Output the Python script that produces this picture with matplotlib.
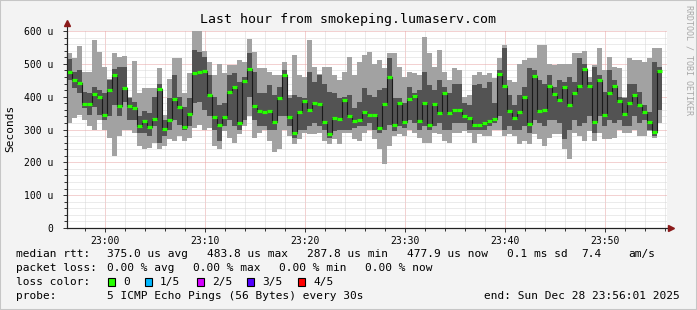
import numpy as np
import matplotlib
matplotlib.use("Agg")
import matplotlib.pyplot as plt
from matplotlib.ticker import MultipleLocator

plt.rcParams['font.family'] = ['DejaVu Sans Mono']

W, H = 697, 310

# smokeping data: 5 pings per 30 s step, values in microseconds
# sorted pings: ping_min, ping_q1 (2nd), median (3rd), ping_q3 (4th), ping_max
ping_max = [532, 517, 555, 476, 476, 572, 535, 490, 455, 534, 520, 525, 400, 508, 410, 425, 426, 426, 488, 345,
            455, 517, 517, 410, 471, 608, 608, 539, 506, 466, 498, 471, 496, 496, 511, 506, 577, 537, 486, 486,
            476, 466, 466, 506, 405, 527, 466, 461, 572, 491, 470, 491, 491, 466, 450, 476, 522, 466, 506, 527,
            537, 501, 511, 486, 532, 532, 491, 461, 476, 471, 466, 583, 532, 491, 542, 476, 450, 486, 481, 400,
            405, 466, 476, 466, 471, 456, 517, 557, 450, 445, 501, 511, 517, 517, 557, 557, 501, 496, 501, 501,
            501, 532, 532, 540, 461, 496, 547, 481, 522, 491, 486, 400, 517, 511, 511, 506, 517, 547, 547]
ping_q3 = [514, 476, 480, 415, 410, 430, 420, 410, 450, 485, 490, 490, 395, 385, 340, 355, 350, 400, 440, 330,
           395, 466, 400, 370, 395, 542, 537, 521, 466, 400, 374, 380, 466, 471, 445, 460, 532, 476, 410, 410,
           435, 405, 430, 481, 395, 405, 400, 395, 476, 445, 465, 440, 415, 410, 395, 400, 405, 364, 385, 425,
           405, 400, 420, 425, 517, 395, 395, 380, 430, 410, 420, 476, 435, 420, 450, 430, 410, 440, 440, 380,
           374, 435, 440, 425, 445, 380, 480, 547, 405, 374, 405, 430, 486, 481, 450, 440, 466, 430, 450, 445,
           461, 445, 517, 500, 445, 491, 466, 415, 481, 450, 400, 395, 440, 440, 415, 374, 354, 506, 491]
median = [474, 452, 443, 377, 377, 409, 400, 345, 419, 467, 373, 426, 372, 367, 311, 325, 309, 331, 422, 303,
          328, 394, 369, 309, 346, 471, 476, 478, 404, 339, 313, 339, 414, 429, 321, 449, 483, 371, 356, 354,
          356, 323, 397, 466, 337, 288, 354, 386, 360, 380, 377, 323, 287, 335, 331, 390, 342, 327, 328, 352,
          343, 345, 306, 378, 459, 314, 380, 323, 393, 402, 326, 380, 315, 378, 349, 410, 350, 359, 359, 342,
          336, 314, 314, 319, 325, 331, 470, 432, 357, 335, 353, 399, 317, 462, 356, 359, 433, 407, 389, 429,
          376, 411, 432, 483, 434, 322, 450, 345, 410, 431, 387, 346, 380, 404, 376, 353, 324, 293, 477]
ping_q1 = [450, 425, 410, 365, 345, 370, 345, 330, 340, 375, 340, 385, 330, 330, 290, 290, 280, 310, 260, 280,
           300, 330, 315, 300, 310, 380, 385, 360, 340, 300, 265, 310, 330, 310, 300, 330, 400, 330, 310, 310,
           300, 300, 340, 340, 310, 275, 300, 300, 310, 320, 310, 300, 275, 295, 300, 300, 300, 305, 310, 310,
           320, 300, 290, 300, 315, 295, 310, 305, 330, 320, 300, 310, 300, 310, 320, 300, 300, 320, 320, 320,
           300, 300, 300, 300, 310, 320, 340, 300, 310, 300, 300, 310, 290, 330, 320, 310, 330, 330, 320, 270,
           300, 330, 310, 320, 340, 290, 340, 310, 330, 320, 330, 310, 310, 340, 320, 330, 300, 280, 360]
ping_min = [320, 335, 345, 330, 310, 300, 330, 300, 275, 220, 280, 300, 300, 290, 250, 240, 245, 260, 240, 250,
            270, 265, 280, 265, 275, 305, 315, 300, 305, 250, 240, 295, 275, 260, 285, 310, 340, 275, 290, 300,
            265, 230, 240, 300, 280, 255, 270, 290, 285, 285, 290, 265, 255, 270, 255, 290, 290, 270, 265, 290,
            300, 270, 240, 195, 250, 280, 285, 280, 300, 290, 275, 260, 260, 290, 285, 265, 260, 290, 290, 295,
            290, 260, 285, 280, 280, 300, 300, 280, 285, 280, 255, 265, 255, 285, 270, 250, 275, 285, 285, 240,
            210, 290, 280, 265, 295, 265, 290, 270, 270, 275, 300, 290, 290, 300, 280, 280, 295, 275, 320]

start_min = 56 + 10 / 60   # 22:56:10, minutes after 22:00
step_min = 0.5
tick_labels = ["23:00", "23:10", "23:20", "23:30", "23:40", "23:50"]
tick_pos = [60, 70, 80, 90, 100, 110]
y_labels = ["0", "100 u", "200 u", "300 u", "400 u", "500 u", "600 u"]

legend_rtt = ["375.0 us avg", "483.8 us max", "287.8 us min", "477.9 us now", "0.1 ms sd", "7.4", "am/s"]
legend_loss = ["0.00 % avg", "0.00 % max", "0.00 % min", "0.00 % now"]
loss_names = ["0", "1/5", "2/5", "3/5", "4/5"]
loss_colors = ["#26ff00", "#00b8ff", "#d400ff", "#5200ff", "#ff0000"]

n = len(median)
t = start_min + step_min * np.arange(n)

fig = plt.figure(figsize=(W / 100, H / 100), dpi=100, facecolor="#f3f3f3")


def fx(x):
    return x / W


def fy(y):
    return 1 - y / H


ax = fig.add_axes([fx(67), fy(228), 600 / W, 197 / H])
ax.set_facecolor("white")
ax.set_xlim(start_min, start_min + 60)
ax.set_ylim(0, 600)

# grid (behind the smoke)
dots = (0, (1, 1))
for m in np.arange(58, start_min + 60, 2):
    major = m % 10 == 0
    ax.axvline(m, color="#e8a4a4" if major else "#d8d8d8", lw=0.72, ls=dots, zorder=1)
for v in range(20, 601, 20):
    major = v % 100 == 0
    ax.axhline(v, color="#e8a4a4" if major else "#d8d8d8", lw=0.72, ls=dots, zorder=1)

# smoke
ax.bar(t, np.array(ping_max) - np.array(ping_min), bottom=ping_min, width=step_min, align="edge",
       color="#a2a2a2", linewidth=0, zorder=2)
ax.bar(t, np.array(ping_q3) - np.array(ping_q1), bottom=ping_q1, width=step_min, align="edge",
       color="#535353", linewidth=0, zorder=3)

# median: vertical connectors and loss-coloured steps
for i in range(n - 1):
    ax.plot([t[i] + step_min] * 2, [median[i], median[i + 1]], color="#1a1a1a", lw=0.8, zorder=5)
ax.hlines(median, t, t + step_min, color=loss_colors[0], lw=2.3, zorder=6)

for s in ["top", "right"]:
    ax.spines[s].set_visible(False)
for s in ["left", "bottom"]:
    ax.spines[s].set_linewidth(0.8)
    ax.spines[s].set_color("#222222")

ax.set_xticks(tick_pos)
ax.set_xticklabels(tick_labels)
ax.xaxis.set_minor_locator(MultipleLocator(2))
ax.set_yticks(range(0, 601, 100))
ax.set_yticklabels(y_labels)
ax.yaxis.set_minor_locator(MultipleLocator(20))
ax.tick_params(which="major", length=3, width=0.7, color="#333333", labelsize=7, pad=3)
ax.tick_params(axis="y", which="major", pad=7)
ax.tick_params(which="minor", length=2, width=0.7, color="#333333")

# axis arrows
fig.add_artist(plt.Line2D([fx(67), fx(67)], [fy(228), fy(24)], color="#222222", lw=0.8))
fig.add_artist(plt.Line2D([fx(67), fx(671)], [fy(228), fy(228)], color="#222222", lw=0.8))
fig.add_artist(plt.Line2D([fx(67)], [fy(23)], marker="^", color="#8b1a1a", markersize=4, lw=0))
fig.add_artist(plt.Line2D([fx(671)], [fy(228)], marker=">", color="#8b1a1a", markersize=4, lw=0))

# titles
fig.text(fx(348), fy(19), "Last hour from smokeping.lumaserv.com", ha="center", va="center", fontsize=9.5)
fig.text(fx(10), fy(128), "Seconds", ha="center", va="center", rotation=90, fontsize=8)
fig.text(fx(689), fy(60), "RRDTOOL / TOBI OETIKER", ha="center", va="center", rotation=-90,
         fontsize=6, color="#a8a8a8")

# legend block
fs = 8
rows = [254, 268, 282, 296]
fig.text(fx(16), fy(rows[0]), "median rtt:", va="center", fontsize=fs)
for x, s in zip([107, 207, 307, 407, 507, 581, 628], legend_rtt):
    fig.text(fx(x), fy(rows[0]), s, va="center", fontsize=fs)
fig.text(fx(16), fy(rows[1]), "packet loss:", va="center", fontsize=fs)
for x, s in zip([107, 193, 279, 365], legend_loss):
    fig.text(fx(x), fy(rows[1]), s, va="center", fontsize=fs)
fig.text(fx(16), fy(rows[2]), "loss color:", va="center", fontsize=fs)
for x, s, c in zip([108, 145, 197, 247, 298], loss_names, loss_colors):
    fig.add_artist(plt.Rectangle((fx(x), fy(286)), 7 / W, 8 / H, facecolor=c, edgecolor="black", lw=0.8))
    fig.text(fx(x + 15), fy(rows[2]), s, va="center", fontsize=fs)
fig.text(fx(16), fy(rows[3]), "probe:", va="center", fontsize=fs)
fig.text(fx(107), fy(rows[3]), "5 ICMP Echo Pings (56 Bytes) every 30s", va="center", fontsize=fs)
fig.text(fx(680), fy(rows[3]), "end: Sun Dec 28 23:56:01 2025", ha="right", va="center", fontsize=fs)

# frame
fig.add_artist(plt.Rectangle((0, 0), 1, 1, transform=fig.transFigure, fill=False,
                             edgecolor="#c6c6c6", lw=1.5))

fig.savefig("out.png", dpi=100, facecolor=fig.get_facecolor())
